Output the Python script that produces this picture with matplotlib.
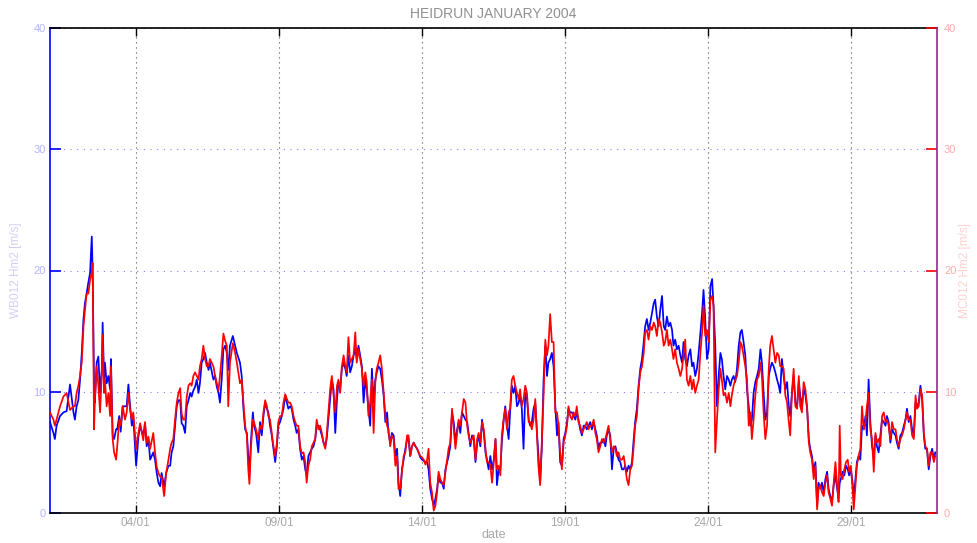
import matplotlib
matplotlib.use('Agg')
import matplotlib.pyplot as plt

plt.rcParams['font.family'] = ['Liberation Sans', 'DejaVu Sans']

title = 'HEIDRUN JANUARY 2004'
xlabel = 'date'
ylabel_left = 'WB012 Hm2 [m/s]'
ylabel_right = 'MC012 Hm2 [m/s]'
tick_days = [3, 8, 13, 18, 23, 28]
tick_labels = ['04/01', '09/01', '14/01', '19/01', '24/01', '29/01']
y_ticks = [0, 10, 20, 30, 40]

# time in days since 2004-01-01 00:00
days = [
    0.00, 0.12, 0.17, 0.23, 0.35, 0.47, 0.58, 0.70, 0.82, 0.87, 0.93, 0.99, 1.05, 1.11, 1.17, 1.22,
    1.28, 1.34, 1.40, 1.46, 1.49, 1.54, 1.57, 1.63, 1.69, 1.75, 1.81, 1.84, 1.89, 1.92, 1.98, 2.04,
    2.10, 2.13, 2.19, 2.24, 2.31, 2.35, 2.42, 2.47, 2.54, 2.62, 2.68, 2.74, 2.80, 2.86, 2.91, 3.01,
    3.09, 3.15, 3.26, 3.32, 3.38, 3.44, 3.50, 3.61, 3.67, 3.73, 3.79, 3.85, 3.90, 3.99, 4.06, 4.14,
    4.20, 4.25, 4.31, 4.37, 4.43, 4.49, 4.55, 4.60, 4.66, 4.72, 4.78, 4.84, 4.90, 4.95, 5.01, 5.07,
    5.13, 5.19, 5.24, 5.30, 5.36, 5.42, 5.48, 5.54, 5.59, 5.71, 5.77, 5.83, 5.89, 5.94, 6.00, 6.06,
    6.12, 6.18, 6.23, 6.29, 6.39, 6.47, 6.53, 6.64,
    6.70, 6.76, 6.82, 6.88, 6.93, 6.97, 7.02, 7.09, 7.13, 7.20, 7.28, 7.34, 7.40, 7.46, 7.52, 7.58,
    7.63, 7.69, 7.75, 7.81, 7.87, 7.93, 7.98, 8.04, 8.10, 8.16, 8.22, 8.28, 8.33, 8.39, 8.45, 8.51,
    8.57, 8.62, 8.68, 8.74, 8.80, 8.86, 8.92, 8.97, 9.03, 9.09, 9.15, 9.21, 9.27, 9.32, 9.38, 9.44,
    9.50, 9.56, 9.62, 9.67, 9.73, 9.79, 9.85, 9.91, 9.97, 10.03, 10.08, 10.14, 10.20, 10.26, 10.32, 10.37,
    10.43, 10.49, 10.55, 10.61, 10.67, 10.72, 10.78, 10.84, 10.90, 10.96, 11.02, 11.07, 11.13, 11.19, 11.25, 11.31,
    11.37, 11.42, 11.48, 11.54, 11.60, 11.66, 11.72, 11.78, 11.83, 11.89, 11.95, 12.01, 12.07, 12.13, 12.18, 12.24,
    12.30, 12.36, 12.42, 12.48, 12.53, 12.59, 12.65, 12.71, 12.77, 12.83, 12.88, 12.94, 13.00, 13.06, 13.12, 13.18,
    13.23, 13.29, 13.35, 13.41, 13.47, 13.53, 13.58, 13.64, 13.70, 13.76, 13.82, 13.88, 13.93, 13.99, 14.05, 14.11,
    14.17, 14.23, 14.28, 14.34, 14.40, 14.46, 14.52, 14.58, 14.63, 14.69, 14.75, 14.81, 14.87, 14.93, 14.98, 15.04,
    15.10, 15.16, 15.22, 15.27, 15.33, 15.39, 15.45, 15.51, 15.57, 15.62, 15.68, 15.74,
    15.79, 15.85, 15.91, 15.97, 16.03, 16.08, 16.14, 16.20, 16.26, 16.32, 16.38, 16.43, 16.49, 16.55, 16.61, 16.67,
    16.73, 16.78, 16.84, 16.90, 16.96, 17.02, 17.07, 17.13, 17.19, 17.25, 17.31, 17.37, 17.42, 17.48, 17.54, 17.60,
    17.66, 17.72, 17.77, 17.83, 17.89, 17.95, 18.01, 18.07, 18.12, 18.18, 18.24, 18.30, 18.36, 18.41, 18.47, 18.53,
    18.59, 18.65, 18.71, 18.76, 18.82, 18.88, 18.94, 19.00, 19.06, 19.11, 19.17, 19.23, 19.29, 19.35, 19.41, 19.46,
    19.52, 19.58, 19.64, 19.70, 19.76, 19.81, 19.87, 19.93, 19.99, 20.05, 20.10, 20.16, 20.22, 20.28, 20.34, 20.40,
    20.45, 20.51, 20.57, 20.63, 20.69, 20.75, 20.80, 20.86, 20.92, 20.98, 21.04, 21.10, 21.15, 21.21, 21.27, 21.33,
    21.39, 21.45, 21.50, 21.56, 21.62, 21.68, 21.74, 21.79, 21.85, 21.91, 21.97, 22.03, 22.09, 22.14, 22.20, 22.26,
    22.32, 22.38, 22.44, 22.49, 22.55, 22.61, 22.67, 22.73, 22.79, 22.84, 22.90, 22.96, 23.02, 23.08, 23.14, 23.19,
    23.25, 23.31, 23.37, 23.43, 23.48, 23.54, 23.60, 23.66, 23.72, 23.78, 23.83, 23.89, 23.95, 24.01, 24.07, 24.13,
    24.18, 24.24, 24.30, 24.36, 24.42, 24.48, 24.53, 24.59, 24.65, 24.71, 24.77, 24.83, 24.88, 24.94, 25.00, 25.06,
    25.12, 25.17, 25.23, 25.29, 25.35, 25.41, 25.47, 25.52,
    25.58, 25.64, 25.70, 25.76, 25.82, 25.87, 25.93, 25.99, 26.05, 26.11, 26.17, 26.22, 26.28, 26.34, 26.40, 26.46,
    26.52, 26.57, 26.63, 26.69, 26.75, 26.81, 26.86, 26.92, 26.98, 27.04, 27.10, 27.16, 27.21, 27.27, 27.33, 27.39,
    27.45, 27.51, 27.56, 27.60, 27.64, 27.70, 27.76, 27.82, 27.88, 27.93, 27.99, 28.05, 28.09, 28.15, 28.20, 28.26,
    28.32, 28.38, 28.44, 28.50, 28.55, 28.61, 28.67, 28.73, 28.79, 28.85, 28.90, 28.96, 29.02, 29.08, 29.14, 29.20,
    29.25, 29.31, 29.37, 29.43, 29.49, 29.55, 29.60, 29.66, 29.72, 29.78, 29.84, 29.90, 29.95, 30.01, 30.07, 30.13,
    30.19, 30.25, 30.30, 30.36, 30.42, 30.48, 30.54, 30.59, 30.65, 30.71, 30.77, 30.83, 30.89, 30.94,
]

# WB012 Hm2 [m/s] (blue)
wb012 = [
    7.5, 6.6, 6.1, 7.2, 8.0, 8.3, 8.4, 10.6, 8.3, 7.7, 8.8, 9.3, 11.0, 13.2, 16.0, 17.3,
    18.1, 19.0, 19.8, 22.8, 20.0, 10.5, 9.1, 12.4, 12.9, 9.9, 11.8, 15.7, 11.0, 12.4, 10.7, 11.3,
    10.2, 12.7, 6.4, 6.1, 6.9, 6.9, 8.0, 6.7, 8.8, 8.8, 8.8, 10.6, 8.8, 7.2, 8.0, 3.9,
    6.3, 7.2, 6.3, 7.4, 5.5, 6.1, 4.4, 5.0, 4.4, 3.3, 2.5, 2.2, 3.3, 2.2, 3.3, 3.9,
    3.9, 5.0, 5.5, 7.2, 8.8, 9.3, 9.3, 7.4, 7.2, 6.6, 8.8, 9.3, 9.9, 9.6, 10.1, 10.4,
    11.0, 9.9, 10.7, 12.4, 12.7, 13.2, 12.4, 11.8, 12.4, 11.0, 11.3, 10.4, 9.9, 9.1, 11.0, 13.5,
    13.8, 13.2, 11.8, 13.8, 14.6, 13.8, 13.2, 12.4,
    11.3, 8.6, 6.9, 6.6, 4.7, 3.1, 5.8, 8.3, 7.2, 6.6, 5.0, 7.5, 6.4, 8.0, 9.1, 8.6,
    8.3, 7.2, 6.4, 5.3, 4.2, 5.5, 7.2, 7.5, 8.0, 8.6, 9.7, 9.1, 8.6, 8.8, 8.6, 7.7,
    7.2, 6.6, 6.9, 5.3, 4.4, 4.7, 3.6, 3.1, 4.7, 5.0, 5.3, 5.5, 6.1, 7.2, 7.2, 6.9,
    6.4, 5.8, 5.5, 6.1, 7.7, 9.4, 11.0, 10.2, 6.6, 9.4, 10.8, 10.2, 11.9, 12.4, 11.9, 11.3,
    13.0, 11.6, 12.1, 13.0, 13.5, 12.7, 13.8, 13.0, 12.1, 9.1, 11.0, 10.2, 8.6, 7.2, 11.9, 9.1,
    11.0, 11.6, 12.1, 11.9, 11.0, 9.7, 7.5, 8.3, 6.6, 5.8, 6.6, 6.4, 4.7, 5.3, 2.5, 1.4,
    3.6, 4.4, 5.3, 6.1, 6.1, 4.7, 5.5, 5.8, 5.5, 5.3, 5.0, 4.6, 4.4, 4.3, 4.2, 4.2,
    3.6, 2.0, 1.2, 0.6, 1.2, 2.0, 3.1, 2.5, 2.5, 2.0, 3.6, 4.2, 4.7, 5.5, 8.3, 7.5,
    5.8, 6.9, 7.5, 6.6, 8.3, 8.0, 7.7, 7.5, 6.6, 5.5, 6.4, 6.1, 4.2, 5.8, 6.4, 5.5,
    7.7, 6.6, 5.0, 4.4, 3.6, 4.7, 3.6, 4.4, 6.1, 2.3, 3.6, 3.6,
    5.8, 7.5, 8.8, 7.2, 6.1, 8.3, 10.5, 9.9, 10.5, 8.8, 9.1, 9.7, 8.6, 5.3, 9.9, 9.4,
    7.7, 7.2, 7.5, 8.6, 9.1, 6.6, 4.7, 2.5, 5.5, 11.0, 13.8, 11.3, 12.4, 12.7, 13.2, 12.1,
    8.8, 6.4, 7.5, 4.2, 3.9, 6.1, 6.6, 7.5, 8.6, 8.3, 8.3, 8.0, 7.7, 8.3, 7.7, 6.9,
    6.4, 7.2, 7.2, 6.9, 7.2, 7.5, 6.9, 7.5, 6.9, 6.4, 5.3, 5.8, 5.8, 6.1, 5.5, 6.4,
    6.9, 6.4, 3.6, 5.3, 5.5, 5.0, 4.4, 4.2, 3.6, 3.6, 3.9, 3.4, 3.9, 3.6, 4.2, 6.1,
    7.5, 8.6, 10.5, 11.9, 12.7, 14.1, 15.4, 16.0, 15.1, 15.7, 16.5, 17.3, 17.6, 16.2, 15.4, 16.8,
    17.9, 15.4, 15.1, 16.2, 15.4, 15.7, 15.1, 13.8, 14.3, 13.5, 13.8, 13.0, 12.4, 14.1, 12.7, 12.1,
    13.0, 13.5, 12.1, 12.4, 11.3, 11.9, 13.2, 14.9, 16.5, 18.4, 16.0, 12.7, 13.5, 18.7, 19.3, 17.1,
    13.8, 8.8, 11.3, 13.2, 12.7, 11.3, 10.2, 11.3, 11.0, 10.5, 11.0, 11.3, 10.8, 11.9, 13.8, 14.9,
    15.1, 14.1, 13.0, 10.2, 8.8, 7.2, 7.7, 9.9, 10.8, 11.3, 11.9, 13.5, 12.4, 9.9, 7.7, 8.3,
    11.3, 11.9, 12.4, 12.1, 11.6, 11.0, 10.5, 9.9,
    12.7, 11.3, 10.2, 10.8, 8.8, 8.0, 9.9, 11.3, 9.1, 8.8, 10.8, 9.7, 8.8, 10.2, 9.7, 8.6,
    6.1, 5.3, 4.7, 3.4, 4.2, 0.6, 2.5, 2.0, 2.5, 1.7, 2.8, 3.4, 2.0, 1.4, 0.9, 2.3,
    3.1, 2.0, 1.2, 2.5, 2.8, 3.4, 3.1, 3.9, 3.6, 3.1, 3.6, 2.5, 1.2, 2.8, 4.2, 4.7,
    4.4, 7.2, 6.9, 8.0, 6.4, 11.0, 7.5, 5.5, 4.7, 6.4, 5.5, 5.0, 6.4, 7.7, 7.5, 7.2,
    8.0, 7.5, 5.8, 6.9, 6.6, 6.4, 5.8, 5.3, 6.4, 6.6, 7.2, 7.7, 8.6, 7.5, 8.0, 6.9,
    6.4, 9.1, 8.8, 9.1, 10.5, 9.4, 6.4, 5.3, 5.3, 3.6, 4.7, 5.3, 4.4, 5.0,
]

# MC012 Hm2 [m/s] (red)
mc012 = [
    8.3, 7.7, 7.2, 7.7, 8.8, 9.6, 9.9, 8.5, 8.8, 8.8, 9.9, 10.5, 11.3, 12.4, 15.4, 16.7,
    18.1, 18.1, 19.2, 19.8, 20.6, 6.9, 9.4, 12.1, 10.5, 8.3, 11.5, 14.7, 9.9, 11.0, 8.8, 9.9,
    8.0, 12.1, 6.1, 5.0, 4.4, 5.5, 7.7, 7.2, 8.8, 7.7, 8.3, 9.9, 8.5, 7.7, 8.3, 5.3,
    6.6, 7.4, 6.0, 7.5, 5.8, 6.3, 5.3, 6.6, 5.0, 3.8, 3.3, 3.0, 3.0, 1.4, 3.3, 4.4,
    5.3, 5.8, 6.1, 7.7, 9.1, 9.9, 10.3, 8.2, 7.7, 7.7, 9.6, 10.5, 10.7, 10.5, 11.3, 11.6,
    11.3, 11.0, 12.1, 12.7, 13.8, 12.7, 12.1, 12.1, 12.7, 12.1, 11.3, 10.7, 10.1, 11.3, 12.9, 14.8,
    14.2, 13.8, 8.8, 12.4, 14.0, 13.2, 12.4, 10.7,
    11.0, 9.1, 7.2, 6.4, 3.6, 2.4, 5.3, 7.7, 7.5, 6.9, 6.1, 7.2, 6.9, 8.3, 9.3, 8.8,
    8.0, 7.7, 6.6, 5.5, 4.7, 5.8, 7.5, 8.0, 8.0, 9.1, 9.8, 9.4, 9.1, 9.1, 8.8, 8.0,
    7.5, 7.2, 7.2, 5.5, 4.9, 5.0, 4.2, 2.5, 3.9, 4.4, 5.5, 5.8, 6.1, 7.7, 6.9, 7.2,
    6.6, 5.8, 5.3, 6.4, 8.3, 10.2, 11.3, 9.7, 8.3, 10.5, 11.0, 9.9, 12.1, 13.0, 12.1, 11.6,
    14.5, 12.4, 12.7, 13.0, 14.9, 12.4, 13.5, 12.7, 11.9, 10.5, 11.6, 10.8, 8.0, 9.1, 11.0, 6.6,
    10.8, 11.9, 12.4, 13.0, 11.9, 9.9, 8.0, 7.2, 6.9, 5.5, 6.4, 6.1, 3.9, 4.7, 2.0, 2.0,
    3.4, 4.7, 5.0, 6.4, 6.4, 4.7, 5.5, 5.8, 5.5, 5.3, 5.0, 4.7, 4.6, 4.4, 4.0, 4.4,
    5.3, 2.5, 1.7, 0.2, 0.6, 1.7, 3.4, 2.8, 2.5, 2.3, 3.4, 4.4, 5.3, 5.8, 8.6, 6.9,
    5.3, 6.6, 7.7, 7.2, 8.3, 9.4, 9.1, 7.2, 6.4, 5.8, 6.1, 6.4, 4.4, 6.1, 6.6, 5.8,
    7.5, 6.9, 5.3, 4.2, 4.2, 3.9, 2.5, 4.2, 6.1, 3.6, 3.9, 3.1,
    6.4, 7.7, 8.6, 6.9, 8.3, 8.6, 11.0, 11.3, 10.5, 9.9, 9.4, 10.2, 8.8, 9.4, 10.5, 9.9,
    7.5, 7.5, 6.9, 7.7, 9.4, 6.4, 3.9, 2.3, 6.1, 9.7, 14.3, 13.0, 13.8, 16.4, 14.1, 14.1,
    8.3, 8.3, 7.2, 5.0, 3.6, 5.8, 6.4, 7.2, 8.8, 8.0, 7.7, 8.3, 8.0, 8.8, 7.5, 7.2,
    6.6, 6.9, 7.2, 7.5, 6.9, 7.2, 7.2, 7.7, 6.6, 6.1, 5.0, 5.5, 6.1, 5.8, 6.1, 6.6,
    7.2, 6.1, 5.0, 5.5, 5.3, 4.7, 5.0, 4.4, 4.4, 4.7, 3.9, 2.8, 2.3, 3.6, 3.9, 5.5,
    7.2, 8.0, 10.2, 11.6, 12.1, 13.2, 14.9, 15.1, 14.3, 15.4, 15.1, 15.7, 15.4, 14.6, 16.0, 15.7,
    14.9, 13.8, 14.1, 15.1, 13.8, 14.3, 13.5, 12.7, 13.5, 12.4, 11.9, 11.3, 11.9, 13.0, 14.3, 11.0,
    10.5, 11.3, 10.2, 11.0, 9.9, 10.5, 11.0, 13.2, 14.9, 17.1, 14.6, 15.1, 14.1, 17.6, 17.9, 17.1,
    5.0, 7.7, 10.2, 11.9, 11.0, 9.7, 9.9, 9.1, 9.9, 8.8, 9.7, 10.5, 11.0, 11.3, 12.4, 14.1,
    13.8, 13.0, 12.1, 11.0, 7.2, 8.3, 6.1, 7.7, 9.7, 11.0, 11.3, 12.4, 11.3, 8.3, 6.1, 7.2,
    11.9, 13.8, 14.6, 13.5, 12.4, 13.2, 13.0, 12.1,
    12.1, 11.9, 9.7, 9.1, 7.5, 6.4, 9.9, 11.9, 8.8, 8.6, 11.3, 8.8, 8.3, 10.8, 10.2, 8.8,
    5.8, 5.0, 4.4, 2.8, 3.9, 0.3, 2.0, 2.3, 1.7, 1.4, 2.5, 3.1, 1.7, 1.2, 0.6, 2.5,
    4.2, 2.3, 0.9, 7.2, 3.1, 2.8, 3.6, 4.2, 4.4, 3.4, 3.9, 2.0, 0.3, 2.3, 3.9, 4.7,
    5.3, 8.8, 6.9, 7.5, 8.8, 9.9, 6.9, 6.1, 3.4, 6.6, 5.8, 6.1, 5.5, 8.0, 8.3, 7.5,
    7.7, 7.2, 6.1, 7.5, 6.9, 6.9, 6.1, 5.5, 6.1, 6.4, 6.9, 7.7, 8.3, 7.7, 7.7, 6.4,
    6.1, 9.7, 8.6, 8.8, 10.2, 9.7, 6.6, 5.5, 5.3, 3.9, 5.0, 5.0, 4.2, 4.7,
]

fig = plt.figure(figsize=(9.77, 5.43), dpi=100)
ax = fig.add_axes([50 / 977, 30 / 543, 887 / 977, 485 / 543])
ax2 = ax.twinx()

ax.plot(days, wb012, color='#0000ff', lw=1.25, zorder=3)
ax2.plot(days, mc012, color='#ff0000', lw=1.25, zorder=3)

for a in (ax, ax2):
    a.set_xlim(0, 31)
    a.set_ylim(0, 40)
    a.set_yticks(y_ticks)

ax.set_xticks(tick_days)
ax.set_xticklabels(tick_labels)

ax.grid(axis='y', color='#8080ff', linestyle=(0, (1, 5)), lw=0.8)
ax.grid(axis='x', color='#505050', linestyle=(0, (1, 3.5)), lw=0.8)

ax.spines['left'].set_color('#0000ff')
ax.spines['top'].set_color('black')
ax.spines['bottom'].set_color('black')
ax.spines['right'].set_visible(False)
for s in ('left', 'top', 'bottom'):
    ax2.spines[s].set_visible(False)
ax2.spines['right'].set_color('#952a82')
for s in ax.spines.values():
    s.set_linewidth(1.2)
ax2.spines['right'].set_linewidth(1.2)

ax.tick_params(axis='x', direction='in', length=6, width=1, color='black', top=True,
               labelcolor='#a8a8a8', labelsize=8.5, pad=3)
ax.tick_params(axis='y', direction='in', length=8, width=1.2, color='#0000ff',
               labelcolor='#b4b4ff', labelsize=8, pad=3, right=False)
ax2.tick_params(axis='y', direction='in', length=8, width=1.2, color='#ff0000',
                labelcolor='#ffaaaa', labelsize=8, pad=5)

ax.set_title(title, color='#909090', fontsize=10, pad=7)
ax.set_xlabel(xlabel, color='#a8a8a8', fontsize=9, labelpad=0)
ax.set_ylabel(ylabel_left, color='#d0d0f6', fontsize=8.5, labelpad=8)
ax2.set_ylabel(ylabel_right, color='#ffd0d0', fontsize=8.5, rotation=90, labelpad=2)

fig.savefig('out.png', dpi=100)
